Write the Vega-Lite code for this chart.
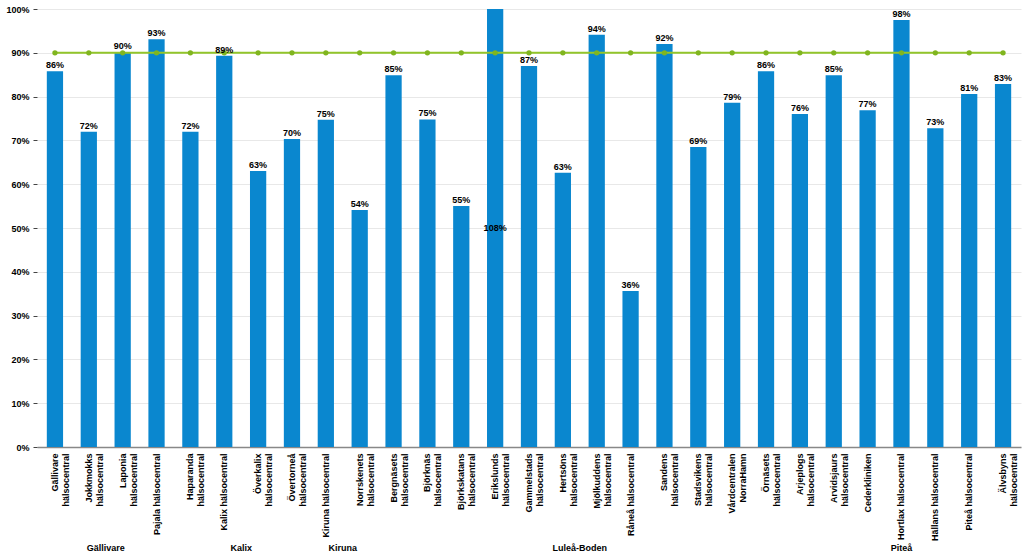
{
  "$schema": "https://vega.github.io/schema/vega-lite/v6.json",
  "width": 984,
  "height": 438,
  "autosize": "none",
  "padding": {"left": 37, "top": 9, "right": 3, "bottom": 111},
  "config": {
    "view": {"stroke": null},
    "font": "Liberation Sans",
    "axis": {"labelFont": "Liberation Sans", "labelFontWeight": "bold", "labelFontSize": 9, "labelColor": "#000"}
  },
  "data": {
    "values": [
      {"name": "Gällivare\nhälsocentral", "value": 0.858, "target": 0.9},
      {"name": "Jokkmokks\nhälsocentral", "value": 0.72, "target": 0.9, "groupLabel": "Gällivare", "groupCenter": false},
      {"name": "Laponia\nhälsocentral", "value": 0.902, "target": 0.9},
      {"name": "Pajala hälsocentral", "value": 0.931, "target": 0.9},
      {"name": "Haparanda\nhälsocentral", "value": 0.72, "target": 0.9},
      {"name": "Kalix hälsocentral", "value": 0.893, "target": 0.9, "groupLabel": "Kalix", "groupCenter": false},
      {"name": "Överkalix\nhälsocentral", "value": 0.63, "target": 0.9},
      {"name": "Övertorneå\nhälsocentral", "value": 0.703, "target": 0.9},
      {"name": "Kiruna hälsocentral", "value": 0.747, "target": 0.9, "groupLabel": "Kiruna", "groupCenter": false},
      {"name": "Norrskenets\nhälsocentral", "value": 0.541, "target": 0.9},
      {"name": "Bergnäsets\nhälsocentral", "value": 0.849, "target": 0.9},
      {"name": "Björknäs\nhälsocentral", "value": 0.748, "target": 0.9},
      {"name": "Björkskatans\nhälsocentral", "value": 0.55, "target": 0.9},
      {"name": "Erikslunds\nhälsocentral", "value": 1.08, "target": 0.9},
      {"name": "Gammelstads\nhälsocentral", "value": 0.87, "target": 0.9},
      {"name": "Hertsöns\nhälsocentral", "value": 0.626, "target": 0.9, "groupLabel": "Luleå-Boden", "groupCenter": false},
      {"name": "Mjölkuddens\nhälsocentral", "value": 0.941, "target": 0.9},
      {"name": "Råneå hälsocentral", "value": 0.356, "target": 0.9},
      {"name": "Sandens\nhälsocentral", "value": 0.92, "target": 0.9},
      {"name": "Stadsvikens\nhälsocentral", "value": 0.685, "target": 0.9},
      {"name": "Vårdcentralen\nNorraHamn", "value": 0.786, "target": 0.9},
      {"name": "Örnäsets\nhälsocentral", "value": 0.858, "target": 0.9},
      {"name": "Arjeplogs\nhälsocentral", "value": 0.76, "target": 0.9},
      {"name": "Arvidsjaurs\nhälsocentral", "value": 0.849, "target": 0.9},
      {"name": "Cederkliniken", "value": 0.769, "target": 0.9},
      {"name": "Hortlax hälsocentral", "value": 0.975, "target": 0.9, "groupLabel": "Piteå", "groupCenter": true},
      {"name": "Hällans hälsocentral", "value": 0.728, "target": 0.9},
      {"name": "Piteå hälsocentral", "value": 0.806, "target": 0.9},
      {"name": "Älvsbyns\nhälsocentral", "value": 0.829, "target": 0.9}
    ]
  },
  "encoding": {
    "x": {
      "field": "name",
      "type": "nominal",
      "sort": null,
      "scale": {"paddingInner": 0.52, "paddingOuter": 0.29},
      "axis": {
        "title": null,
        "labelAngle": 270,
        "labelAlign": "right",
        "labelBaseline": "middle",
        "labelPadding": 6,
        "labelLimit": 0,
        "labelLineHeight": 11,
        "labelOverlap": false,
        "labelExpr": "split(datum.label, '\\n')",
        "ticks": false,
        "domainColor": "#888888",
        "domainWidth": 1.5,
        "grid": false
      }
    }
  },
  "layer": [
    {
      "mark": {"type": "bar", "color": "#0a87cf", "clip": true},
      "encoding": {
        "y": {
          "field": "value",
          "type": "quantitative",
          "scale": {"domain": [0, 1], "nice": false},
          "axis": {
            "title": null,
            "values": [0, 0.1, 0.2, 0.3, 0.4, 0.5, 0.6, 0.7, 0.8, 0.9, 1],
            "format": ".0%",
            "domain": false,
            "grid": true,
            "gridColor": "#e8e8e8",
            "tickColor": "#444",
            "tickSize": 4,
            "labelPadding": 4
          }
        }
      }
    },
    {
      "mark": {"type": "line", "color": "#92c52a", "strokeWidth": 2,
        "point": {"filled": true, "size": 28, "color": "#80b51f", "opacity": 1}},
      "encoding": {"y": {"field": "target", "type": "quantitative"}}
    },
    {
      "transform": [{"filter": "datum.value <= 1"}],
      "mark": {"type": "text", "baseline": "bottom", "dy": -1, "fontSize": 9, "fontWeight": "bold", "color": "#000"},
      "encoding": {
        "y": {"field": "value", "type": "quantitative"},
        "text": {"field": "value", "type": "quantitative", "format": ".0%"}
      }
    },
    {
      "transform": [{"filter": "datum.value > 1"}],
      "mark": {"type": "text", "baseline": "middle", "fontSize": 9, "fontWeight": "bold", "color": "#000"},
      "encoding": {
        "y": {"datum": 0.5},
        "text": {"field": "value", "type": "quantitative", "format": ".0%"}
      }
    },
    {
      "transform": [{"filter": "datum.groupLabel && !datum.groupCenter"}],
      "mark": {"type": "text", "baseline": "middle", "fontSize": 9, "fontWeight": "bold", "color": "#000"},
      "encoding": {
        "x": {"field": "name", "type": "nominal", "sort": null, "bandPosition": 1.5417},
        "y": {"datum": -0.23},
        "text": {"field": "groupLabel"}
      }
    },
    {
      "transform": [{"filter": "datum.groupLabel && datum.groupCenter"}],
      "mark": {"type": "text", "baseline": "middle", "fontSize": 9, "fontWeight": "bold", "color": "#000"},
      "encoding": {
        "y": {"datum": -0.23},
        "text": {"field": "groupLabel"}
      }
    }
  ]
}
